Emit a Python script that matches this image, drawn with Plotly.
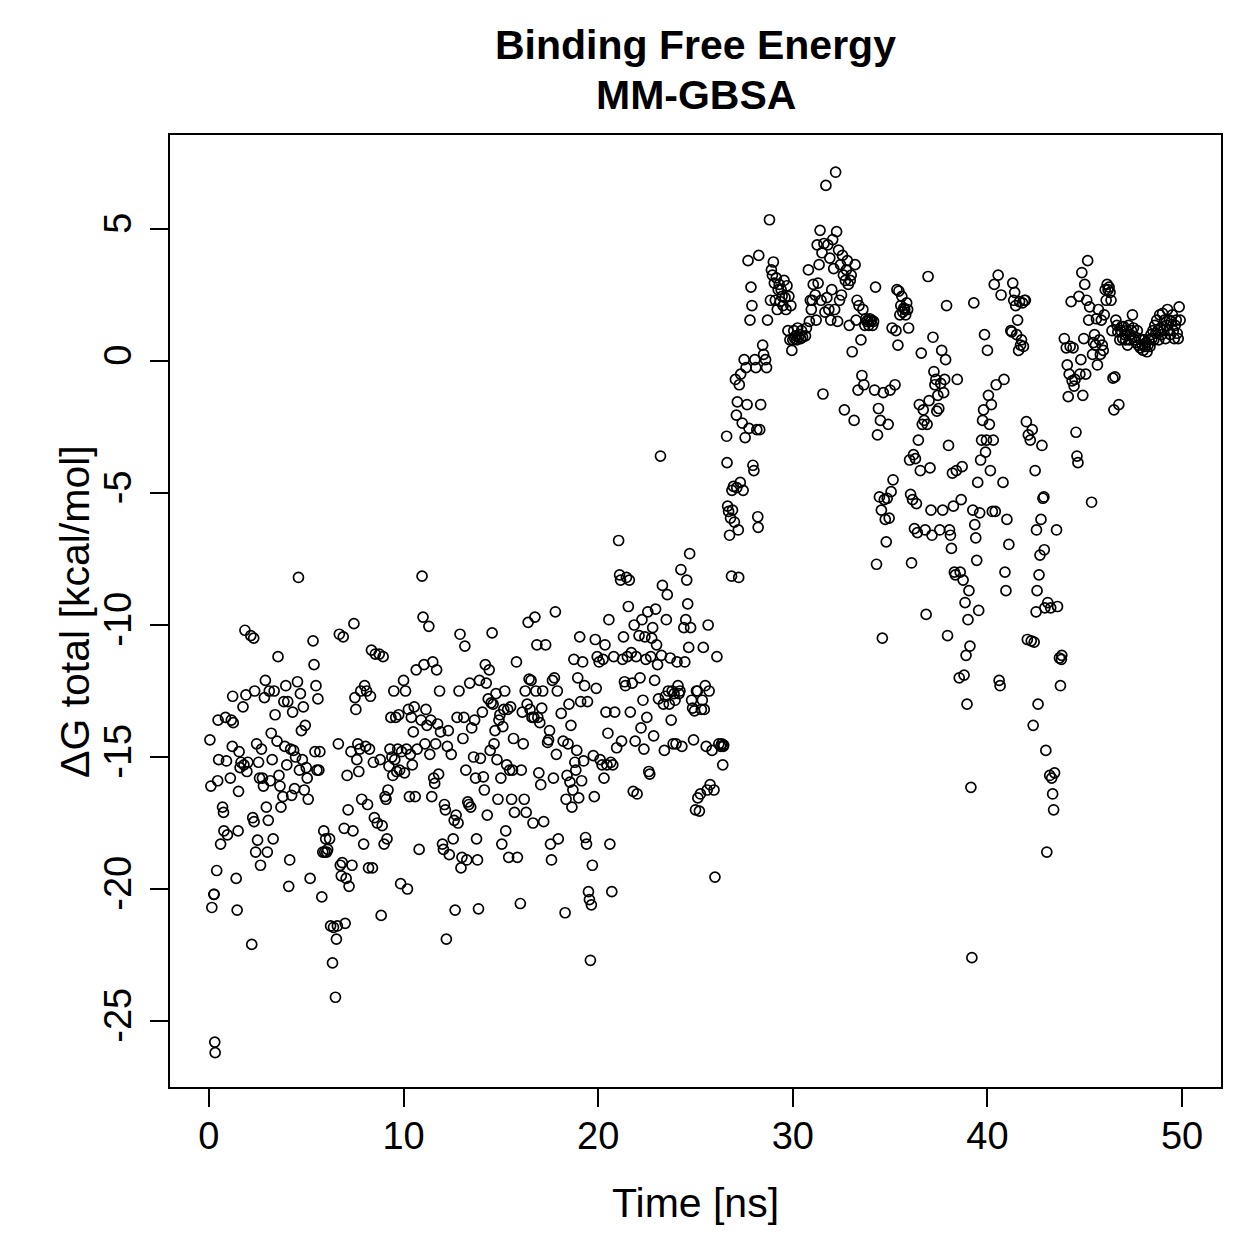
import plotly.graph_objects as go

# ---- Data: time [ns] and Delta G total [kcal/mol] ----
t_00_02 = [0.05,0.1,0.15,0.25,0.27,0.3,0.32,0.4,0.45,0.47,0.5,0.6,0.7,0.75,0.77,0.85,0.9,0.95,1.1,1.15,
           1.2,1.22,1.25,1.4,1.45,1.5,1.52,1.55,1.6,1.65,1.75,1.8,1.85,1.9,1.95,2.0]
g_00_02 = [-14.35,-16.1,-20.7,-20.2,-20.2,-25.8,-26.2,-19.3,-15.9,-13.6,-15.1,-18.3,-16.9,-17.1,-17.8,-13.5,-15.15,-17.95,-15.8,-13.6,
           -14.6,-12.7,-13.7,-19.6,-20.8,-17.8,-16.3,-14.8,-15.4,-15.2,-13.1,-15.3,-10.2,-12.65,-15.55,-15.2]

t_02_04 = [2.15,2.2,2.25,2.3,2.32,2.35,2.4,2.45,2.5,2.55,2.6,2.65,2.7,2.75,2.8,2.85,2.9,2.95,3.0,3.05,
           3.1,3.15,3.2,3.25,3.3,3.35,3.4,3.5,3.55,3.6,3.65,3.7,3.8,3.85,3.9,3.95,4.0]
g_02_04 = [-10.4,-22.1,-17.3,-10.5,-17.45,-12.5,-18.6,-14.5,-18.15,-15.2,-15.8,-19.1,-14.7,-15.8,-16.1,-12.75,-12.1,-16.9,-18.6,-17.4,
           -12.5,-15.9,-14.1,-15.1,-18.1,-12.5,-13.4,-14.4,-11.2,-15.7,-16.1,-16.9,-16.5,-12.9,-14.6,-12.3,-15.3]

t_04_06 = [4.05,4.1,4.15,4.2,4.25,4.3,4.35,4.4,4.45,4.55,4.6,4.65,4.7,4.75,4.8,4.85,4.9,4.95,5.0,5.05,
           5.1,5.2,5.35,5.4,5.45,5.5,5.55,5.6,5.65,5.7,5.8,5.85,5.9,5.95,6.0]
g_04_06 = [-12.9,-19.9,-18.9,-14.7,-16.45,-13.3,-14.75,-16.2,-15.0,-12.15,-8.2,-15.5,-12.6,-14.0,-15.1,-13.1,-16.25,-13.8,-15.4,-15.8,
           -16.6,-19.6,-10.6,-11.5,-14.8,-12.3,-15.5,-12.8,-15.5,-14.8,-20.3,-18.6,-17.8,-18.6,-18.1]

t_06_08 = [6.05,6.1,6.2,6.25,6.35,6.4,6.5,6.55,6.6,6.65,6.7,6.75,6.8,6.85,6.9,6.95,7.0,7.05,7.1,7.15,
           7.2,7.3,7.35,7.4,7.45,7.5,7.55,7.6,7.65,7.7,7.75,7.8,7.85,7.95,8.0]
g_06_08 = [-18.6,-18.5,-18.1,-21.4,-22.8,-21.45,-24.1,-21.9,-21.4,-14.5,-10.35,-19.1,-19.5,-19.0,-10.45,-17.7,-21.3,-19.6,-15.7,-17.0,
           -19.9,-14.8,-19.1,-17.8,-9.95,-12.75,-13.2,-15.1,-14.5,-15.55,-14.7,-12.5,-16.6,-18.3,-12.3]

t_08_10 = [8.05,8.1,8.15,8.2,8.25,8.3,8.35,8.4,8.45,8.5,8.55,8.65,8.75,8.8,8.85,8.9,8.95,9.0,9.05,9.1,
           9.15,9.2,9.25,9.3,9.35,9.4,9.45,9.5,9.55,9.6,9.65,9.7,9.75,9.8,9.85,9.9]
g_08_10 = [-14.6,-12.5,-16.8,-19.2,-14.7,-12.7,-10.95,-19.2,-15.2,-17.3,-11.1,-17.5,-11.1,-15.1,-21.0,-17.6,-11.2,-18.3,-16.5,-16.6,
           -18.1,-16.25,-15.35,-14.7,-13.5,-15.0,-15.7,-12.5,-15.1,-13.5,-15.55,-14.7,-13.4,-15.5,-19.8,-14.8]

t_10_12 = [10.0,10.05,10.1,10.15,10.2,10.25,10.3,10.35,10.4,10.45,10.5,10.55,10.6,10.65,10.7,10.8,10.9,10.95,11.0,11.05,
           11.1,11.15,11.2,11.3,11.35,11.4,11.45,11.5,11.55,11.6,11.65,11.7,11.75,11.8,11.85,11.9]
g_10_12 = [-12.1,-15.6,-12.5,-14.7,-20.0,-13.2,-16.5,-14.9,-13.5,-15.3,-14.05,-13.1,-16.5,-11.7,-14.7,-18.5,-13.6,-8.15,-9.7,-11.5,
           -14.5,-13.2,-13.8,-10.05,-14.9,-13.6,-16.5,-11.4,-15.8,-16.0,-14.5,-11.7,-13.75,-15.65,-12.5,-14.05]

t_12_14 = [12.0,12.05,12.1,12.15,12.2,12.25,12.3,12.35,12.45,12.55,12.6,12.65,12.7,12.75,12.8,12.85,12.9,12.95,13.0,13.05,
           13.1,13.15,13.2,13.25,13.3,13.35,13.4,13.45,13.5,13.6,13.65,13.7,13.75,13.8,13.85,13.9,13.95]
g_12_14 = [-18.3,-18.5,-16.8,-17.0,-21.9,-14.6,-14.0,-18.7,-14.9,-18.1,-17.4,-20.8,-17.2,-13.5,-17.5,-12.5,-10.35,-19.2,-18.8,-14.3,
           -13.5,-10.8,-15.5,-18.9,-16.7,-16.8,-12.2,-16.9,-13.9,-15.0,-13.6,-15.8,-18.1,-18.9,-20.75,-12.1,-15.05]

t_14_16 = [14.05,14.1,14.15,14.2,14.25,14.3,14.35,14.4,14.45,14.5,14.55,14.6,14.65,14.7,14.75,14.8,14.85,14.9,14.95,15.0,
           15.05,15.1,15.15,15.2,15.25,15.3,15.35,15.4,15.45,15.5,15.55,15.6,15.65,15.7,15.8,15.85,16.0]
g_14_16 = [-13.3,-15.75,-16.25,-11.5,-12.2,-17.2,-12.8,-11.7,-14.75,-12.95,-10.3,-13.0,-14.5,-14.0,-12.6,-15.1,-16.6,-13.6,-13.4,-15.8,
           -18.3,-13.85,-13.2,-12.5,-17.8,-15.3,-13.2,-18.8,-15.5,-13.1,-16.6,-15.5,-14.3,-17.1,-11.4,-18.8,-20.55]

t_16_18 = [16.05,16.1,16.15,16.2,16.25,16.3,16.35,16.4,16.45,16.5,16.55,16.6,16.65,16.7,16.75,16.8,16.85,16.9,16.95,17.0,
           17.05,17.1,17.15,17.2,17.3,17.4,17.45,17.5,17.55,17.6,17.65,17.7,17.75,17.8,17.85,17.9,17.95]
g_16_18 = [-15.5,-13.3,-14.5,-16.6,-12.5,-17.1,-13.0,-9.9,-12.05,-13.2,-12.1,-13.5,-17.5,-13.5,-9.7,-12.5,-10.75,-13.5,-15.6,-13.7,
           -16.05,-13.15,-12.5,-17.45,-10.75,-14.45,-14.35,-14.0,-18.3,-18.9,-12.1,-15.8,-12.0,-9.5,-14.9,-12.5,-18.1]

t_18_20 = [18.1,18.2,18.3,18.35,18.4,18.45,18.5,18.55,18.6,18.65,18.7,18.75,18.8,18.85,18.9,18.95,19.0,19.05,19.1,19.15,
           19.2,19.25,19.3,19.35,19.4,19.45,19.5,19.55,19.6,19.65,19.7,19.75,19.8,19.85,19.9,19.95]
g_18_20 = [-13.35,-14.4,-20.9,-16.6,-15.7,-14.5,-13.0,-15.95,-13.8,-16.9,-16.25,-11.3,-15.2,-15.5,-14.75,-12.0,-16.55,-10.45,-12.9,-15.9,
           -11.4,-15.15,-12.3,-18.05,-18.3,-12.9,-20.1,-20.4,-22.7,-20.6,-19.1,-14.95,-16.5,-10.55,-12.4,-11.2]

t_20_22 = [20.05,20.1,20.2,20.25,20.3,20.35,20.4,20.45,20.5,20.55,20.6,20.65,20.7,20.75,20.8,20.85,20.95,21.05,21.1,21.15,
           21.2,21.25,21.3,21.35,21.4,21.45,21.5,21.55,21.6,21.65,21.7,21.75,21.8,21.85,21.9,21.95]
g_20_22 = [-11.4,-15.1,-15.3,-11.3,-15.8,-10.75,-13.3,-15.3,-14.1,-9.8,-18.3,-15.2,-20.1,-15.3,-11.2,-13.3,-14.65,-6.8,-8.1,-8.3,
           -14.4,-11.3,-10.45,-12.15,-12.3,-8.2,-11.2,-9.3,-8.3,-13.3,-11.05,-12.2,-16.3,-10.0,-14.4,-11.2]

t_22_24 = [22.0,22.1,22.15,22.2,22.25,22.3,22.35,22.4,22.45,22.5,22.55,22.6,22.65,22.7,22.75,22.8,22.85,22.9,22.95,23.0,
           23.05,23.1,23.2,23.25,23.3,23.35,23.4,23.45,23.5,23.55,23.6,23.65,23.7,23.75,23.8,23.85,23.9]
g_22_24 = [-16.4,-10.4,-12.0,-13.9,-9.8,-12.85,-14.7,-10.45,-11.3,-13.5,-9.5,-15.55,-15.65,-11.2,-10.5,-10.1,-14.2,-12.1,-9.4,-10.75,
           -11.5,-12.8,-3.6,-11.15,-8.5,-13.0,-14.75,-12.7,-9.8,-8.85,-12.5,-13.0,-11.25,-13.6,-12.5,-14.5,-12.6]

t_24_26 = [23.95,24.0,24.05,24.1,24.15,24.2,24.25,24.3,24.4,24.45,24.5,24.55,24.6,24.65,24.7,24.75,24.8,24.85,24.9,24.95,
           25.0,25.05,25.1,25.12,25.2,25.25,25.3,25.35,25.4,25.45,25.5,25.55,25.6,25.65,25.7,25.75,25.85,25.95,26.0,26.1,
           26.2,26.3,26.35,26.4,26.42,26.45]
g_24_26 = [-12.85,-14.5,-11.4,-12.3,-12.6,-12.5,-7.9,-14.6,-10.1,-11.4,-9.8,-8.3,-9.2,-10.85,-7.3,-10.1,-12.85,-13.15,-14.35,-13.25,
           -17.0,-12.5,-12.5,-16.55,-17.05,-16.4,-13.2,-12.85,-10.85,-13.2,-12.3,-14.6,-16.25,-10.0,-12.5,-16.05,-14.75,-16.25,-19.55,-11.2,
           -14.5,-14.6,-14.5,-15.3,-14.6,-14.55]

t_26_30 = [26.6,26.62,26.65,26.7,26.75,26.8,26.85,26.87,26.9,26.95,27.0,27.05,27.1,27.12,27.15,27.2,27.22,27.25,27.3,27.32,
           27.4,27.45,27.5,27.55,27.6,27.65,27.7,27.75,27.8,27.85,27.9,27.95,28.0,28.05,28.1,28.15,28.2,28.22,28.25,28.3,
           28.35,28.45,28.5,28.6,28.65,28.7,28.8,28.85,28.9,28.95,29.0,29.05,29.1,29.15,29.2,29.25,29.3,29.35,29.4,29.45,
           29.5,29.55,29.6,29.65,29.7,29.75,29.8,29.85,29.9,29.95]
g_26_30 = [-2.85,-3.85,-5.5,-5.7,-6.6,-5.95,-8.15,-4.9,-5.65,-4.75,-6.1,-0.7,-2.05,-4.8,-1.55,-6.4,-8.2,-0.9,-4.6,-0.5,
           -2.35,-4.9,0.05,-2.9,-0.25,-1.65,3.8,-2.55,1.55,2.8,2.1,-3.95,-4.15,0.05,-0.25,-2.6,-5.9,-6.3,4.0,-2.6,
           -1.65,0.6,0.25,0.05,-0.25,1.55,5.35,2.3,3.45,3.25,3.75,2.95,2.3,3.15,1.95,2.7,2.9,2.25,2.7,2.45,
           2.1,3.05,2.4,1.95,2.85,1.15,2.45,0.8,2.1,0.4]

t_30_34 = [30.0,30.05,30.1,30.15,30.2,30.25,30.3,30.35,30.4,30.45,30.5,30.65,30.7,30.8,30.85,30.9,30.95,31.0,31.05,31.15,
           31.2,31.25,31.3,31.35,31.4,31.45,31.5,31.55,31.6,31.65,31.7,31.75,31.8,31.85,31.9,31.95,32.0,32.05,32.1,32.15,
           32.2,32.25,32.3,32.35,32.4,32.45,32.5,32.55,32.6,32.65,32.7,32.75,32.8,32.85,32.9,32.95,33.0,33.05,33.15,33.2,
           33.25,33.3,33.35,33.4,33.5,33.55,33.6,33.65,33.7,33.75,33.8,33.85,33.9,33.95,34.0,34.05,34.1,34.15,34.2,34.25]
g_30_34 = [0.8,1.15,0.85,0.95,0.8,1.25,0.9,1.0,0.85,1.15,0.9,0.95,1.25,3.45,1.5,2.3,1.95,2.3,2.9,2.5,
           1.55,4.4,2.95,3.65,4.95,2.3,4.1,-1.25,4.45,1.85,6.65,2.4,4.4,1.95,3.9,1.55,2.7,4.6,3.5,1.95,
           7.15,4.9,1.5,4.2,2.3,3.65,2.5,4.0,3.25,-1.85,3.05,3.45,3.8,2.9,1.35,3.05,3.25,0.35,-2.25,3.65,
           1.55,2.3,-1.1,2.1,0.8,-0.55,1.95,-0.9,1.35,1.6,1.5,1.55,1.35,1.6,1.5,1.55,1.35,1.5,-1.1,2.8]

t_34_40 = [34.3,34.35,34.4,34.45,34.5,34.55,34.6,34.65,34.7,34.75,34.8,34.85,34.9,34.95,35.0,35.05,35.1,35.15,35.25,35.3,
           35.35,35.4,35.45,35.5,35.55,35.6,35.65,35.7,35.75,35.8,35.85,35.9,35.95,36.0,36.05,36.1,36.15,36.2,36.25,36.3,
           36.35,36.4,36.45,36.5,36.55,36.6,36.65,36.7,36.75,36.8,36.85,36.9,36.95,37.0,37.05,37.1,37.15,37.2,37.25,37.3,
           37.35,37.4,37.45,37.5,37.55,37.6,37.65,37.7,37.75,37.8,37.85,37.9,37.95,38.0,38.05,38.1,38.15,38.2,38.25,38.3,
           38.35,38.4,38.45,38.55,38.6,38.65,38.7,38.75,38.8,38.85,38.9,38.95,39.0,39.05,39.1,39.15,39.2,39.25,39.3,39.35,
           39.4,39.45,39.5,39.55,39.6,39.65,39.7,39.75,39.8,39.85,39.9,39.95]
g_34_40 = [-7.7,-2.8,-1.8,-5.15,-2.25,-5.65,-10.5,-1.2,-5.25,-6.0,-6.85,-5.2,-2.4,-5.95,-1.1,-4.95,1.25,-4.5,-0.9,1.15,
           2.7,0.6,2.65,1.75,2.1,2.45,1.85,2.0,1.95,1.75,2.2,1.95,1.25,-3.75,-5.05,-7.65,-5.25,-3.55,-6.35,-3.7,
           -5.4,-6.5,-3.0,-1.65,-4.15,0.3,-2.4,-1.85,-2.25,-6.4,-9.6,-2.4,3.2,-1.5,-4.05,-5.65,-6.6,0.9,-0.4,-0.9,
           -0.7,-1.9,-1.3,-1.8,-6.4,-0.85,0.4,-5.65,-1.2,-0.7,0.05,2.1,-10.4,-3.2,-6.4,-6.6,-7.1,-4.25,-5.5,-8.0,
           -8.1,-4.15,-0.7,-12.0,-8.0,-5.25,-4.0,-8.3,-11.9,-9.15,-11.15,-13.0,-9.8,-8.7,-10.8,-16.15,-22.6,-5.65,2.2,-6.2,
           -6.7,-7.55,-4.6,-9.45,-5.75,-3.75,-3.0,-2.25,-1.85,1.0,-3.45,-3.0]

t_40_44 = [40.0,40.05,40.1,40.15,40.2,40.25,40.3,40.35,40.4,40.45,40.55,40.6,40.65,40.7,40.8,40.85,40.9,40.95,41.0,41.1,
           41.2,41.25,41.3,41.35,41.4,41.45,41.5,41.55,41.6,41.65,41.7,41.75,41.8,41.85,41.9,41.95,42.0,42.05,42.1,42.2,
           42.25,42.3,42.35,42.4,42.45,42.5,42.52,42.55,42.6,42.65,42.7,42.75,42.8,42.85,42.9,42.92,42.95,43.0,43.05,43.1,
           43.2,43.25,43.3,43.35,43.4,43.45,43.55,43.6,43.7,43.75,43.8,43.82]
g_40_44 = [0.4,-1.3,-2.4,-4.15,-1.65,-5.7,-3.0,2.9,-5.7,-0.9,3.25,-12.1,-12.3,2.5,-4.6,-0.7,-8.0,-8.7,-6.0,-6.95,
           1.15,1.1,2.95,2.3,2.6,2.1,1.0,1.55,0.4,2.25,0.6,0.8,2.2,0.55,2.3,2.3,-2.3,-10.55,-2.8,-3.0,
           -10.6,-2.6,-13.8,-10.65,-4.15,-9.5,-6.4,-8.7,-13.0,-8.1,-7.35,-6.0,-3.2,-5.2,-5.15,-7.15,-9.35,-14.75,-18.6,-9.15,
           -15.7,-9.35,-15.8,-16.4,-17.0,-15.6,-6.4,-9.3,-11.25,-12.3,-11.3,-11.15]

t_44_50 = [43.95,44.05,44.1,44.15,44.2,44.25,44.3,44.35,44.4,44.45,44.5,44.55,44.6,44.65,44.7,44.75,44.8,44.85,44.9,44.95,
           45.0,45.05,45.1,45.15,45.2,45.25,45.35,45.4,45.45,45.5,45.55,45.6,45.65,45.7,45.75,45.8,45.85,45.9,45.95,46.0,
           46.05,46.1,46.15,46.2,46.25,46.3,46.35,46.4,46.45,46.5,46.55,46.6,46.65,46.7,46.75,46.8,46.85,46.9,46.95,47.0,
           47.05,47.1,47.15,47.2,47.25,47.3,47.35,47.4,47.45,47.5,47.55,47.6,47.65,47.7,47.75,47.8,47.85,47.9,47.95,48.0,
           48.05,48.1,48.15,48.2,48.25,48.3,48.35,48.4,48.45,48.5,48.55,48.6,48.65,48.7,48.75,48.8,48.85,48.9,48.95,49.0,
           49.05,49.1,49.15,49.2,49.25,49.3,49.35,49.4,49.45,49.5,49.55,49.6,49.65,49.7,49.75,49.8,49.85,49.9]
g_44_50 = [0.85,0.5,-0.15,-1.35,-0.5,0.55,2.25,-0.75,0.5,-0.95,-0.7,-2.7,-3.6,-3.85,2.45,-0.5,0.05,3.35,-1.3,0.85,
           2.9,-0.5,2.3,3.8,1.55,2.05,-5.35,0.25,0.7,1.0,0.6,1.6,-0.15,1.95,0.8,0.25,1.55,0.6,0.4,1.75,
           2.7,2.3,2.9,2.7,2.8,2.6,2.3,1.15,-0.65,-1.85,-0.6,1.55,1.35,1.1,-1.65,0.8,1.15,1.3,0.85,1.3,
           1.0,0.8,1.15,0.6,1.35,0.8,1.0,1.15,1.75,1.25,0.8,0.9,0.7,1.15,0.6,0.85,0.5,0.8,0.6,0.4,
           0.8,0.55,0.7,0.35,0.6,0.8,0.55,1.0,0.85,1.15,0.8,1.35,1.05,1.55,1.15,0.8,1.75,1.25,1.0,1.8,
           1.15,1.55,0.85,1.35,1.95,1.15,1.55,1.0,1.5,1.75,1.15,0.85,1.35,1.55,1.05,0.85,2.05,1.55]

x_ticks = [0, 10, 20, 30, 40, 50]
y_ticks = [-25, -20, -15, -10, -5, 0, 5]

segments = [(t_00_02, g_00_02), (t_02_04, g_02_04), (t_04_06, g_04_06), (t_06_08, g_06_08),
            (t_08_10, g_08_10), (t_10_12, g_10_12), (t_12_14, g_12_14), (t_14_16, g_14_16),
            (t_16_18, g_16_18), (t_18_20, g_18_20), (t_20_22, g_20_22), (t_22_24, g_22_24),
            (t_24_26, g_24_26), (t_26_30, g_26_30), (t_30_34, g_30_34), (t_34_40, g_34_40),
            (t_40_44, g_40_44), (t_44_50, g_44_50)]

time_ns, dg_total = [], []
for ts, gs in segments:
    assert len(ts) == len(gs), (ts[0], len(ts), len(gs))
    time_ns.extend(ts)
    dg_total.extend(gs)

FONT = "Liberation Sans, Arial, Helvetica, sans-serif"

fig = go.Figure(go.Scatter(
    x=time_ns, y=dg_total, mode="markers",
    marker=dict(symbol="circle-open", size=10, color="black", line=dict(width=1.7, color="black")),
    hoverinfo="x+y", showlegend=False,
))

fig.update_layout(
    width=1259, height=1259,
    margin=dict(l=170, r=38, t=135, b=172),
    paper_bgcolor="white", plot_bgcolor="white",
    font=dict(family=FONT, color="black", size=37),
)
axis_common = dict(showgrid=False, zeroline=False, showline=True, linecolor="black", linewidth=2,
                   mirror=True, ticks="outside", ticklen=18, tickwidth=2, tickcolor="black",
                   tickfont=dict(family=FONT, size=38, color="black"))
fig.update_xaxes(range=[-2, 52], tickvals=x_ticks, ticktext=[str(v) for v in x_ticks],
                 ticklabelstandoff=-4, **axis_common)
fig.update_yaxes(range=[-27.5, 8.56], tickvals=y_ticks, ticktext=[str(v) for v in y_ticks],
                 tickangle=-90, ticklabelstandoff=4, **axis_common)

fig.add_annotation(text="<b>Binding Free Energy</b>", xref="paper", yref="paper", x=0.5, y=1.0945,
                   xanchor="center", yanchor="middle", showarrow=False,
                   font=dict(family=FONT, size=41, color="black"))
fig.add_annotation(text="<b>MM-GBSA</b>", xref="paper", yref="paper", x=0.5, y=1.042,
                   xanchor="center", yanchor="middle", showarrow=False,
                   font=dict(family=FONT, size=41, color="black"))
fig.add_annotation(text="Time [ns]", xref="paper", yref="paper", x=0.5, y=-0.1218,
                   xanchor="center", yanchor="middle", showarrow=False,
                   font=dict(family=FONT, size=41, color="black"))
fig.add_annotation(text="ΔG total [kcal/mol]", xref="paper", yref="paper", x=-0.0904, y=0.5,
                   xanchor="center", yanchor="middle", textangle=-90, showarrow=False,
                   font=dict(family=FONT, size=41, color="black"))

fig.write_html("out.html")
